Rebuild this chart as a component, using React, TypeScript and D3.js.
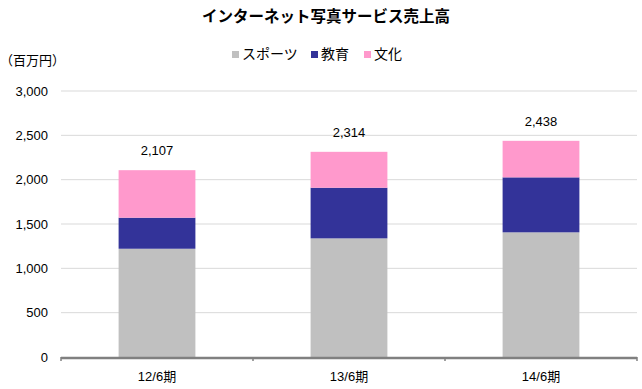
import { useEffect, useRef } from 'react';
import * as d3 from 'd3';

const periods = ['12/6期', '13/6期', '14/6期'];
const seriesNames = ['スポーツ', '教育', '文化'];
const sports = [1221, 1338, 1406];
const education = [350, 571, 620];
const culture = [536, 405, 412];
const totals = [2107, 2314, 2438];
const yTicks = [0, 500, 1000, 1500, 2000, 2500, 3000];

const colors = ['#c0c0c0', '#333399', '#ff99cc'];
const font = '"Liberation Sans", "Noto Sans CJK JP", sans-serif';

const App = () => {
  const ref = useRef(null);

  useEffect(() => {
    const width = 642;
    const height = 389;
    const svg = d3.select(ref.current).attr('width', width).attr('height', height);
    svg.selectAll('*').remove();

    const left = 61, right = 637, top = 91, bottom = 357;

    const x = d3.scaleBand().domain(periods).range([left, right]).paddingInner(0.6).paddingOuter(0.3);
    const y = d3.scaleLinear().domain([0, 3000]).range([bottom, top]);

    // grid
    svg.append('g')
      .selectAll('line')
      .data(yTicks.filter((d) => d > 0))
      .join('line')
      .attr('x1', left)
      .attr('x2', right)
      .attr('y1', (d) => y(d))
      .attr('y2', (d) => y(d))
      .attr('stroke', '#d9d9d9')
      .attr('stroke-width', 1);

    svg.append('g')
      .selectAll('text')
      .data(yTicks)
      .join('text')
      .attr('x', 48)
      .attr('y', (d) => y(d))
      .attr('dy', '0.35em')
      .attr('text-anchor', 'end')
      .attr('font-family', font)
      .attr('font-size', 13)
      .attr('fill', '#000')
      .text((d) => d3.format(',')(d));

    const rows = periods.map((p, i) => ({
      period: p,
      sports: sports[i],
      education: education[i],
      culture: culture[i],
    }));
    const keys = ['sports', 'education', 'culture'];
    const stacked = d3.stack().keys(keys)(rows);

    svg.append('g')
      .selectAll('g')
      .data(stacked)
      .join('g')
      .attr('fill', (d, i) => colors[i])
      .selectAll('rect')
      .data((d) => d)
      .join('rect')
      .attr('x', (d) => x(d.data.period))
      .attr('width', x.bandwidth())
      .attr('y', (d) => y(d[1]))
      .attr('height', (d) => y(d[0]) - y(d[1]));

    // totals
    svg.append('g')
      .selectAll('text')
      .data(periods)
      .join('text')
      .attr('x', (d) => x(d) + x.bandwidth() / 2)
      .attr('y', (d, i) => y(totals[i]) - 15)
      .attr('text-anchor', 'middle')
      .attr('font-family', font)
      .attr('font-size', 13)
      .text((d, i) => d3.format(',')(totals[i]));

    // x axis
    svg.append('line')
      .attr('x1', left)
      .attr('x2', right)
      .attr('y1', bottom + 1)
      .attr('y2', bottom + 1)
      .attr('stroke', '#808080')
      .attr('stroke-width', 2.5);

    svg.append('g')
      .selectAll('line')
      .data(d3.range(periods.length + 1))
      .join('line')
      .attr('x1', (i) => left + i * (right - left) / periods.length)
      .attr('x2', (i) => left + i * (right - left) / periods.length)
      .attr('y1', bottom)
      .attr('y2', bottom + 4)
      .attr('stroke', '#808080')
      .attr('stroke-width', 1.5);

    svg.append('g')
      .selectAll('text')
      .data(periods)
      .join('text')
      .attr('x', (d) => x(d) + x.bandwidth() / 2)
      .attr('y', 381)
      .attr('text-anchor', 'middle')
      .attr('font-family', font)
      .attr('font-size', 13)
      .text((d) => d);

    // title
    svg.append('text')
      .attr('x', 326)
      .attr('y', 22)
      .attr('text-anchor', 'middle')
      .attr('font-family', font)
      .attr('font-size', 15.5)
      .attr('font-weight', 'bold')
      .text('インターネット写真サービス売上高');

    svg.append('text')
      .attr('x', 0)
      .attr('y', 65)
      .attr('font-family', font)
      .attr('font-size', 13)
      .text('（百万円）');

    // legend
    const legendX = [232, 311, 364];
    const lg = svg.append('g')
      .selectAll('g')
      .data(seriesNames)
      .join('g')
      .attr('transform', (d, i) => `translate(${legendX[i]},54.5)`);
    lg.append('rect')
      .attr('x', 0)
      .attr('y', -3.5)
      .attr('width', 7)
      .attr('height', 7)
      .attr('fill', (d, i) => colors[i]);
    lg.append('text')
      .attr('x', 10)
      .attr('y', 0)
      .attr('dy', '0.35em')
      .attr('font-family', font)
      .attr('font-size', 14)
      .text((d) => d);
  }, []);

  return (
    <div style={{ position: 'absolute', left: 0, top: 0 }}>
      <svg ref={ref}></svg>
    </div>
  );
};

export default App;
